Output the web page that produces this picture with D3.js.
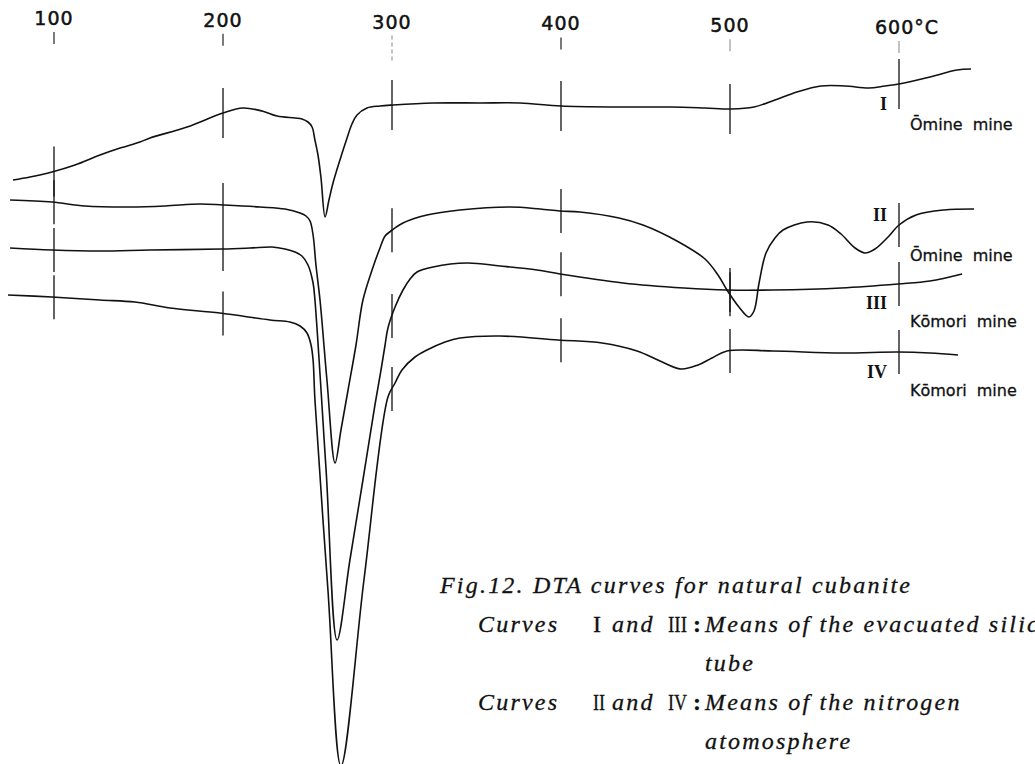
<!DOCTYPE html>
<html>
<head>
<meta charset="utf-8">
<script src="https://cdn.jsdelivr.net/npm/d3@7"></script>
<style>
  body { margin: 0; background: #fff; }
  .cap text { font-family: "Liberation Serif", "Times New Roman", Times, serif; }
</style>
</head>
<body>
<div id="viz"></div>
<script>
const width = 1035;
const height = 764;

// temperature marks along the top
const temps = [100, 200, 300, 400, 500, 600];
const tempLabels = ["100", "200", "300", "400", "500", "600°C"];

// DTA traces: [temperature °C, pen deflection (arb. units)]
const curveI = [
  [75.7, 584], [85.8, 587], [98.8, 592], [112.4, 599], [127.2, 609], [139.1, 616],
  [150.9, 622], [156.8, 626], [178.7, 637], [200.0, 651], [211.8, 656], [223.1, 653],
  [232.0, 648], [242.6, 646], [246.7, 645], [250.3, 642], [252.7, 637], [254.4, 624],
  [256.2, 609], [258.0, 586], [260.4, 547], [262.7, 564], [265.1, 581], [269.2, 604],
  [273.4, 626], [276.3, 640], [279.3, 649], [285.2, 656], [292.9, 658], [300.6, 659],
  [324.3, 661], [352.1, 661], [375.7, 661], [400.0, 658], [434.9, 657], [465.1, 657],
  [485.2, 656], [500.6, 655], [514.2, 657], [526.6, 664], [539.6, 672], [553.8, 678],
  [568.0, 678], [582.2, 676], [591.7, 678], [600.0, 680], [618.3, 687], [634.3, 694],
  [642.6, 695]
];
const curveII = [
  [74.0, 564], [98.8, 562], [118.3, 558], [145.0, 557], [165.7, 558], [186.4, 560],
  [200.0, 559], [221.9, 557], [236.7, 555], [245.6, 551], [249.1, 548], [251.5, 543],
  [253.3, 529], [255.0, 499], [257.4, 464], [261.5, 384], [266.3, 301], [269.8, 334],
  [274.0, 374], [278.7, 419], [282.8, 464], [288.8, 497], [292.9, 516], [295.9, 528],
  [299.4, 533], [306.5, 541], [320.7, 549], [340.2, 554], [369.8, 557], [387.6, 555],
  [399.4, 553], [411.2, 552], [434.3, 546], [448.5, 539], [468.6, 523], [485.2, 505],
  [492.9, 489], [498.2, 474], [505.3, 457], [511.2, 447], [514.2, 453], [517.2, 481],
  [521.3, 511], [526.6, 526], [531.4, 534], [545.6, 542], [558.0, 539], [565.7, 530],
  [574.0, 516], [579.9, 511], [585.8, 515], [594.1, 528], [600.0, 539], [610.1, 549],
  [626.6, 554], [644.4, 555]
];
const curveIII = [
  [74.0, 516], [98.8, 514], [127.2, 513], [156.8, 514], [199.4, 515], [216.0, 516],
  [229.0, 517], [236.7, 515], [242.6, 512], [246.7, 508], [250.3, 499], [253.3, 481],
  [254.4, 464], [261.0, 294], [267.5, 124], [275.1, 204], [282.8, 284], [289.9, 359],
  [293.5, 394], [295.9, 419], [297.6, 436], [301.8, 457], [306.5, 474], [310.7, 485],
  [314.8, 492], [324.3, 497], [344.4, 501], [363.9, 498], [385.8, 494], [399.4, 490],
  [436.7, 481], [472.8, 476], [498.2, 474], [525.4, 474], [565.7, 476], [599.4, 480],
  [618.3, 483], [637.3, 490]
];
const curveIV = [
  [72.8, 469], [98.8, 467], [127.2, 464], [147.9, 462], [168.6, 456], [198.2, 451],
  [227.8, 444], [239.6, 442], [245.6, 438], [249.7, 431], [252.1, 419], [253.3, 404],
  [254.4, 364], [262.1, 174], [269.8, -2], [283.4, 184], [297.6, 367], [301.8, 381],
  [305.9, 394], [313.6, 407], [320.7, 414], [331.4, 422], [340.2, 426], [363.9, 428],
  [398.2, 424], [424.3, 421], [445.0, 413], [458.6, 403], [471.0, 395], [481.1, 399],
  [489.3, 406], [498.2, 413], [525.4, 413], [565.7, 411], [599.4, 412], [618.3, 411],
  [634.9, 409]
];

const curveNames = ["I", "II", "III", "IV"];
const mineNames = ["Ōmine mine", "Ōmine mine", "Kōmori mine", "Kōmori mine"];

const captionTitle = "Fig.12. DTA curves for natural cubanite";
const captionRows = [
  { first: "I", second: "III", text: "Means of the evacuated silica", more: "tube" },
  { first: "II", second: "IV", text: "Means of the nitrogen", more: "atomosphere" }
];

const curves = [curveI, curveII, curveIII, curveIV];

// layout of the little labels at the right end (offsets from the trace at 600 °C)
const numDy = [26, -4, 25, 26];
const mineDy = [46, 36, 43, 44];
const tickHalf = [25, 22, 22, 22];

const svg = d3.select("#viz")
  .append("svg")
  .attr("width", width)
  .attr("height", height)
  .style("background", "#fff");

const x = d3.scaleLinear().domain([100, 600]).range([54, 899]);
const y = d3.scaleLinear().domain([0, 764]).range([764, 0]);

const line = d3.line()
  .x(d => x(d[0]))
  .y(d => y(d[1]))
  .curve(d3.curveCatmullRom.alpha(0.5));

// value of a trace at a given temperature (first bracketing segment)
function valueAt(pts, t) {
  for (let i = 0; i < pts.length - 1; i++) {
    const a = pts[i], b = pts[i + 1];
    if (t >= a[0] && t <= b[0]) {
      return a[1] + (b[1] - a[1]) * (t - a[0]) / (b[0] - a[0]);
    }
  }
  return pts[pts.length - 1][1];
}

// top temperature labels (slightly skewed, like the scan)
const labelY = t => 25 + 9 * (t - 100) / 500;

svg.selectAll("text.temp")
  .data(temps)
  .join("text")
  .attr("class", "temp")
  .attr("x", d => d === 600 ? x(d) - 24 : x(d))
  .attr("y", d => labelY(d))
  .attr("text-anchor", d => d === 600 ? "start" : "middle")
  .attr("font-family", "DejaVu Sans, sans-serif")
  .attr("font-size", "19px")
  .attr("letter-spacing", "1px")
  .attr("fill", "#111")
  .attr("stroke", "#111")
  .attr("stroke-width", 0.5)
  .text((d, i) => tempLabels[i]);

svg.selectAll("line.toptick")
  .data(temps)
  .join("line")
  .attr("class", "toptick")
  .attr("x1", d => x(d))
  .attr("x2", d => x(d))
  .attr("y1", d => labelY(d) + 7)
  .attr("y2", d => labelY(d) + (d === 300 ? 32 : 19))
  .attr("stroke", d => (d === 300 || d >= 500) ? "#999" : "#222")
  .attr("stroke-dasharray", d => d === 300 ? "4,3" : null)
  .attr("stroke-width", 1.2);

// traces
curves.forEach((pts, ci) => {
  svg.append("path")
    .datum(pts)
    .attr("d", line)
    .attr("fill", "none")
    .attr("stroke", "#111")
    .attr("stroke-width", 1.6)
    .attr("stroke-linejoin", "round");

  // temperature ticks crossing each trace
  svg.append("g")
    .selectAll("line")
    .data(temps)
    .join("line")
    .attr("x1", d => x(d))
    .attr("x2", d => x(d))
    .attr("y1", d => y(valueAt(pts, d)) - tickHalf[ci])
    .attr("y2", d => y(valueAt(pts, d)) + tickHalf[ci])
    .attr("stroke", "#111")
    .attr("stroke-width", 1.3);

  const y600 = y(valueAt(pts, 600));

  svg.append("text")
    .attr("x", x(600) - 12)
    .attr("y", y600 + numDy[ci])
    .attr("text-anchor", "end")
    .attr("font-family", "Liberation Serif, serif")
    .attr("font-weight", "bold")
    .attr("font-size", "18px")
    .attr("fill", "#111")
    .text(curveNames[ci]);

  svg.append("text")
    .attr("x", x(600) + 11)
    .attr("y", y600 + mineDy[ci])
    .attr("font-family", "DejaVu Sans, sans-serif")
    .attr("font-size", "16px")
    .attr("word-spacing", "5px")
    .attr("fill", "#111")
    .attr("stroke", "#111")
    .attr("stroke-width", 0.3)
    .text(mineNames[ci]);
});

// caption
const cap = svg.append("g")
  .attr("class", "cap")
  .attr("font-style", "italic")
  .attr("font-size", "24px")
  .attr("letter-spacing", "2.2px")
  .attr("fill", "#111")
  .attr("stroke", "#111")
  .attr("stroke-width", 0.3);

const capX = 440;
const capY = 593;
const capStep = 39;
const numeralWidth = { "I": 8, "II": 12, "III": 19, "IV": 19 };

cap.append("text")
  .attr("x", capX)
  .attr("y", capY)
  .text(captionTitle);

captionRows.forEach((r, i) => {
  const yy = capY + capStep * (1 + 2 * i);
  cap.append("text").attr("x", capX + 38).attr("y", yy).text("Curves");
  cap.append("text").attr("x", 593).attr("y", yy)
    .attr("font-style", "normal").attr("letter-spacing", "0px")
    .attr("textLength", numeralWidth[r.first]).attr("lengthAdjust", "spacingAndGlyphs")
    .text(r.first);
  cap.append("text").attr("x", 612).attr("y", yy).text("and");
  cap.append("text").attr("x", 668).attr("y", yy)
    .attr("font-style", "normal").attr("letter-spacing", "0px")
    .attr("textLength", numeralWidth[r.second]).attr("lengthAdjust", "spacingAndGlyphs")
    .text(r.second);
  cap.append("text").attr("x", 693).attr("y", yy)
    .attr("font-style", "normal").attr("font-weight", "bold").text(":");
  cap.append("text").attr("x", 705).attr("y", yy).text(r.text);
  cap.append("text").attr("x", 705).attr("y", yy + capStep).text(r.more);
});
</script>
</body>
</html>
